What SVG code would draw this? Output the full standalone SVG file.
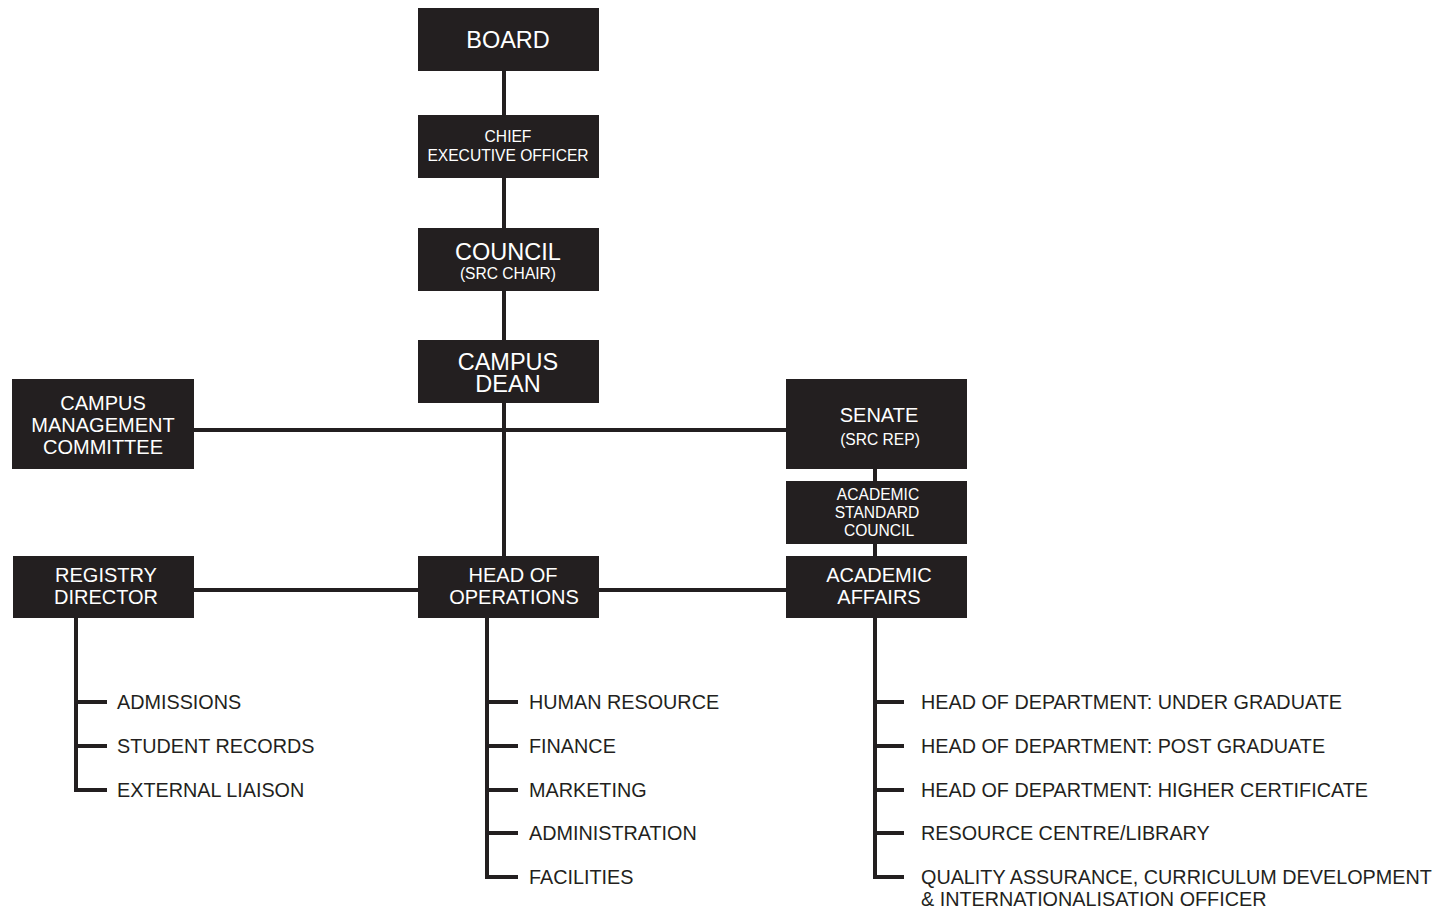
<svg xmlns="http://www.w3.org/2000/svg" width="1437" height="909" viewBox="0 0 1437 909">
<style>
.box{fill:#231f20}
.t{font-family:"Liberation Sans",Arial,sans-serif;fill:#ffffff;text-anchor:middle}
.b{font-size:23.5px}
.m{font-size:20px}
.s{font-size:15.6px}
.l{font-family:"Liberation Sans",Arial,sans-serif;font-size:19.8px;fill:#231f20}
.c{stroke:#231f20;stroke-width:4;fill:none}
</style>
<rect width="1437" height="909" fill="#ffffff"/>
<g id="connectors">
<line class="c" x1="504" y1="71" x2="504" y2="556"/>
<line class="c" x1="194" y1="430" x2="786" y2="430"/>
<line class="c" x1="194" y1="590" x2="418" y2="590"/>
<line class="c" x1="599" y1="590" x2="786" y2="590"/>
<line class="c" x1="875" y1="469" x2="875" y2="481"/>
<line class="c" x1="875" y1="544" x2="875" y2="556"/>
<path class="c" d="M76 618 V790 H107 M76 702 H107 M76 746 H107"/>
<path class="c" d="M487 618 V877 H518 M487 702 H518 M487 746 H518 M487 790 H518 M487 833 H518"/>
<path class="c" d="M875 618 V877 H904 M875 702 H904 M875 746 H904 M875 790 H904 M875 833 H904"/>
</g>
<g id="board"><rect class="box" x="418" y="8" width="181" height="63"/><text class="t b" x="508" y="48">BOARD</text></g>
<g id="ceo"><rect class="box" x="418" y="115" width="181" height="63"/><text class="t s" x="508" y="142">CHIEF</text><text class="t s" x="508" y="161">EXECUTIVE OFFICER</text></g>
<g id="council"><rect class="box" x="418" y="228" width="181" height="63"/><text class="t b" x="508" y="259.5">COUNCIL</text><text class="t s" x="508" y="279">(SRC CHAIR)</text></g>
<g id="campus-dean"><rect class="box" x="418" y="340" width="181" height="63"/><text class="t b" x="508" y="369.5">CAMPUS</text><text class="t b" x="508" y="391.5">DEAN</text></g>
<g id="campus-management-committee"><rect class="box" x="12" y="379" width="182" height="90"/><text class="t m" x="103" y="410">CAMPUS</text><text class="t m" x="103" y="432">MANAGEMENT</text><text class="t m" x="103" y="454">COMMITTEE</text></g>
<g id="senate"><rect class="box" x="786" y="379" width="181" height="90"/><text class="t m" x="879" y="422">SENATE</text><text class="t s" x="880" y="445">(SRC REP)</text></g>
<g id="academic-standard-council"><rect class="box" x="786" y="481" width="181" height="63"/><text class="t s" x="878" y="499.5">ACADEMIC</text><text class="t s" x="877" y="517.5">STANDARD</text><text class="t s" x="879" y="535.5">COUNCIL</text></g>
<g id="registry-director"><rect class="box" x="13" y="556" width="181" height="62"/><text class="t m" x="106" y="582">REGISTRY</text><text class="t m" x="106" y="604">DIRECTOR</text></g>
<g id="head-of-operations"><rect class="box" x="418" y="556" width="181" height="62"/><text class="t m" x="513" y="582">HEAD OF</text><text class="t m" x="514" y="604">OPERATIONS</text></g>
<g id="academic-affairs"><rect class="box" x="786" y="556" width="181" height="62"/><text class="t m" x="879" y="582">ACADEMIC</text><text class="t m" x="879" y="604">AFFAIRS</text></g>
<g id="registry-list">
<text class="l" x="117" y="709">ADMISSIONS</text>
<text class="l" x="117" y="753">STUDENT RECORDS</text>
<text class="l" x="117" y="797">EXTERNAL LIAISON</text>
</g>
<g id="operations-list">
<text class="l" x="529" y="709">HUMAN RESOURCE</text>
<text class="l" x="529" y="753">FINANCE</text>
<text class="l" x="529" y="797">MARKETING</text>
<text class="l" x="529" y="840">ADMINISTRATION</text>
<text class="l" x="529" y="884">FACILITIES</text>
</g>
<g id="academic-list">
<text class="l" x="921" y="709">HEAD OF DEPARTMENT: UNDER GRADUATE</text>
<text class="l" x="921" y="753">HEAD OF DEPARTMENT: POST GRADUATE</text>
<text class="l" x="921" y="797">HEAD OF DEPARTMENT: HIGHER CERTIFICATE</text>
<text class="l" x="921" y="840">RESOURCE CENTRE/LIBRARY</text>
<text class="l" x="921" y="884">QUALITY ASSURANCE, CURRICULUM DEVELOPMENT</text>
<text class="l" x="921" y="906">&amp; INTERNATIONALISATION OFFICER</text>
</g>
</svg>
